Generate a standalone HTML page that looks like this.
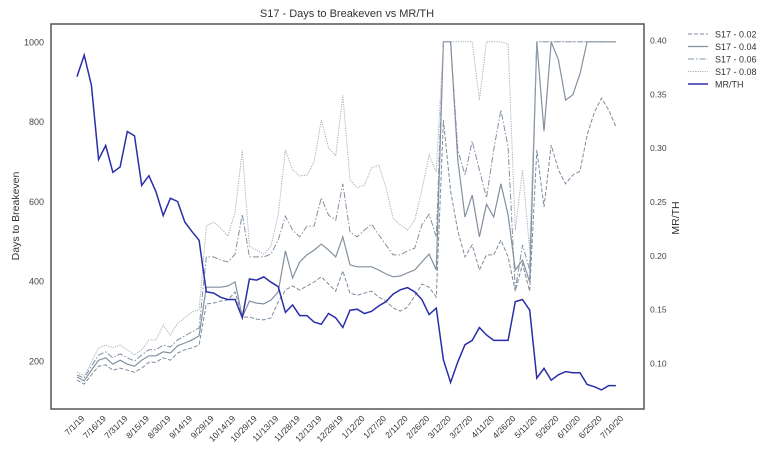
<!DOCTYPE html>
<html><head><meta charset="utf-8"><style>
body{margin:0;background:#fff;}
svg{display:block;font-family:"Liberation Sans",sans-serif;}
</style></head><body>
<svg id="chart" width="768" height="456" viewBox="0 0 768 456" xmlns="http://www.w3.org/2000/svg">
<rect x="0" y="0" width="768" height="456" fill="#fff"/>
<text x="347" y="17" text-anchor="middle" font-size="11" fill="#333">S17 - Days to Breakeven vs MR/TH</text>
<text transform="translate(19,216) rotate(-90)" text-anchor="middle" font-size="10.5" fill="#333">Days to Breakeven</text>
<text transform="translate(679,218) rotate(-90)" text-anchor="middle" font-size="10.5" fill="#333">MR/TH</text>
<g id="marks"></g>
<rect x="51" y="24" width="593" height="385" fill="none" stroke="#555" stroke-width="1.5"/>
<g id="legend"></g>
</svg>
<script>
const tickLabels=["7/1/19","7/16/19","7/31/19","8/15/19","8/30/19","9/14/19","9/29/19","10/14/19","10/29/19","11/13/19","11/28/19","12/13/19","12/28/19","1/12/20","1/27/20","2/11/20","2/26/20","3/12/20","3/27/20","4/11/20","4/26/20","5/11/20","5/26/20","6/10/20","6/25/20","7/10/20"];
const leftTicks=[200,400,600,800,1000];
const rightTicks=[0.10,0.15,0.20,0.25,0.30,0.35,0.40];
const sampleStepDays=5;
const s002=[152,142,165,187,190,177,182,177,172,182,197,197,208,202,220,228,233,240,
343,345,350,353,373,310,310,305,303,308,348,378,388,378,388,398,411,393,375,426,370,365,370,375,360,350,333,325,335,363,393,385,360,804,626,526,461,491,428,466,466,503,461,375,443,375,729,586,741,679,644,666,676,766,823,859,829,787];
const s004=[160,150,177,202,208,192,202,192,187,202,213,213,223,220,238,245,253,263,
385,385,385,388,398,310,350,345,343,353,373,476,408,448,466,478,493,478,461,511,441,436,436,436,428,418,411,413,421,428,448,468,428,1000,1000,704,561,616,511,593,561,644,566,428,453,398,1000,776,1000,955,854,867,920,1000,1000,1000,1000,1000];
const s006=[165,157,187,215,223,208,218,208,200,215,228,228,240,235,253,263,273,283,
461,461,453,448,468,568,461,461,461,468,503,563,528,511,538,538,609,566,553,644,523,511,528,543,516,491,466,466,476,483,541,568,511,1000,1000,729,666,751,679,609,729,829,736,378,491,428,1000,1000,1000,1000,1000,1000,1000,1000,1000,1000,1000,1000];
const s008=[172,162,197,233,240,233,240,228,215,228,253,253,290,265,295,308,323,328,
538,548,533,513,573,729,488,478,468,488,566,729,679,664,666,699,804,734,714,867,654,634,641,684,691,634,558,541,528,553,629,716,674,1000,1000,1000,1000,1000,854,1000,1000,1000,994,528,679,478,1000,1000,1000,1000,1000,1000,1000,1000,1000,1000,1000,1000];
const mrth=[0.366,0.386,0.358,0.289,0.302,0.277,0.282,0.315,0.311,0.265,0.274,0.259,0.237,0.253,0.250,0.231,0.222,0.214,0.166,0.165,0.161,0.159,0.159,0.142,0.178,0.177,0.180,0.175,0.171,0.147,0.154,0.144,0.144,0.138,0.136,0.146,0.142,0.133,0.149,0.150,0.146,0.148,0.153,0.157,0.164,0.168,0.170,0.166,0.159,0.145,0.151,0.103,0.082,0.101,0.117,0.121,0.133,0.126,0.121,0.121,0.121,0.157,0.159,0.149,0.086,0.095,0.084,0.089,0.092,0.091,0.091,0.080,0.078,0.075,0.079,0.079];

const NS="http://www.w3.org/2000/svg";
const svg=document.getElementById('chart');
const marks=document.getElementById('marks');
const legend=document.getElementById('legend');
function xDay(d){return 77+d*1.437;}
function yLeft(v){return 361-(v-200)*0.399;}
function yRight(r){return 363-(r-0.10)*1076.7;}
function mk(tag,attrs,parent){const e=document.createElementNS(NS,tag);for(const k in attrs)e.setAttribute(k,attrs[k]);(parent||svg).appendChild(e);return e;}

leftTicks.forEach(v=>{
  const t=mk('text',{x:44,y:yLeft(v)+3.5,'text-anchor':'end','font-size':'9',fill:'#444'});
  
  
  t.textContent=v;
});
rightTicks.forEach(v=>{
  const t=mk('text',{x:650,y:yRight(v)+3.5,'font-size':'8.5',fill:'#444'});
  
  
  t.textContent=v.toFixed(2);
});
tickLabels.forEach((lab,i)=>{
  const x=xDay(i*15)+8, y=419;
  const t=mk('text',{x:x,y:y,'text-anchor':'end','font-size':'8.5',fill:'#333',transform:`rotate(-45 ${x} ${y})`});
  
  
  t.textContent=lab;
});

const series=[
 {name:'S17 - 0.02',data:s002,dash:'4,2',color:'#7d8b9c',w:1,key:'series-s17-002'},
 {name:'S17 - 0.04',data:s004,dash:'',color:'#8290a0',w:1.2,key:'series-s17-004'},
 {name:'S17 - 0.06',data:s006,dash:'6,2,1.5,2',color:'#8290a0',w:1,key:'series-s17-006'},
 {name:'S17 - 0.08',data:s008,dash:'1.2,1.2',color:'#a3adba',w:1,key:'series-s17-008'}
];
series.forEach(s=>{
  const d=s.data.map((v,i)=>(i?'L':'M')+xDay(i*sampleStepDays).toFixed(1)+','+yLeft(v).toFixed(1)).join('');
  const p=mk('path',{d:d,fill:'none',stroke:s.color,'stroke-width':s.w,'stroke-dasharray':s.dash},marks);
  
  
});
{
  const d=mrth.map((v,i)=>(i?'L':'M')+xDay(i*sampleStepDays).toFixed(1)+','+yRight(v).toFixed(1)).join('');
  const p=mk('path',{d:d,fill:'none',stroke:'#2a2fa8','stroke-width':1.5},marks);
  
  
}
const legItems=series.concat([{name:'MR/TH',dash:'',color:'#2a2fa8',w:1.5}]);
legItems.forEach((s,i)=>{
  const y=34+i*12.5;
  const g=mk('g',{},legend);
  
  
  mk('line',{x1:688,x2:708,y1:y,y2:y,stroke:s.color,'stroke-width':s.w,'stroke-dasharray':s.dash},g);
  const t=mk('text',{x:715,y:y+3.5,'font-size':'9',fill:'#333'},g);
  t.textContent=s.name;
});
</script>
</body></html>
